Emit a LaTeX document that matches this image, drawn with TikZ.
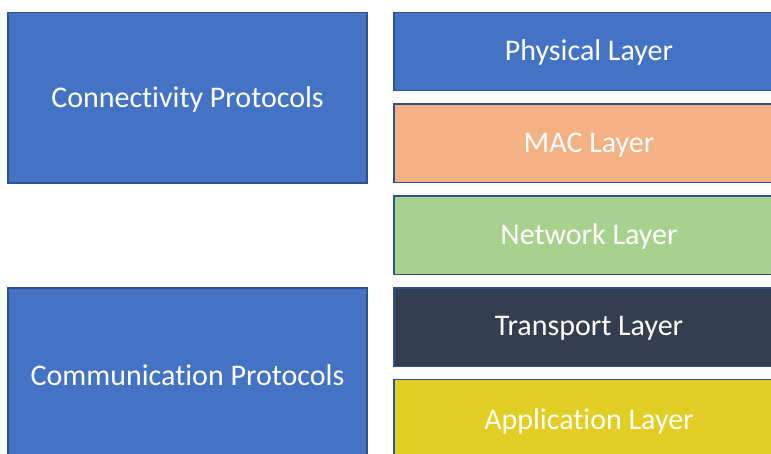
\documentclass[tikz,border=0pt]{standalone}
\usepackage{fontspec}
\setmainfont{Carlito}[Ligatures=NoCommon]
\definecolor{boxblue}{HTML}{4472C4}
\definecolor{edgeblue}{HTML}{2F528F}
\definecolor{macorange}{HTML}{F4B183}
\definecolor{netgreen}{HTML}{A9D18E}
\definecolor{transdark}{HTML}{333F50}
\definecolor{appyellow}{HTML}{E2CD22}
\tikzset{
  layerbox/.style={draw=edgeblue, line width=1.1pt, text=white,
    font=\fontsize{30}{36}\selectfont, inner sep=0pt},
  boxlabel/.style={midway, yshift=-1.5pt}
}
\begin{document}
\begin{tikzpicture}[x=1pt,y=-1pt]
  \useasboundingbox (0,0) rectangle (771,454);
  \clip (0,0) rectangle (771,454);
  % protocol groups
  \draw[layerbox, fill=boxblue] (8,12.5) rectangle (367,183)
    node[boxlabel] (conn) {Connectivity Protocols};
  \draw[layerbox, fill=boxblue] (8,288) rectangle (367,460)
    node[boxlabel] (comm) {Communication Protocols};
  % layer stack
  \draw[layerbox, fill=boxblue] (394,12.5) rectangle (784,90.5)
    node[boxlabel] (phy) {Physical Layer};
  \draw[layerbox, fill=macorange] (394,104) rectangle (784,182.5)
    node[boxlabel] (mac) {MAC Layer};
  \draw[layerbox, fill=netgreen] (394,196) rectangle (784,274.5)
    node[boxlabel] (net) {Network Layer};
  \draw[layerbox, fill=transdark] (394,288) rectangle (784,366.5)
    node[boxlabel] (trans) {Transport Layer};
  \draw[layerbox, fill=appyellow] (394,379.5) rectangle (784,460)
    node[boxlabel] (app) {Application Layer};
\end{tikzpicture}
\end{document}
